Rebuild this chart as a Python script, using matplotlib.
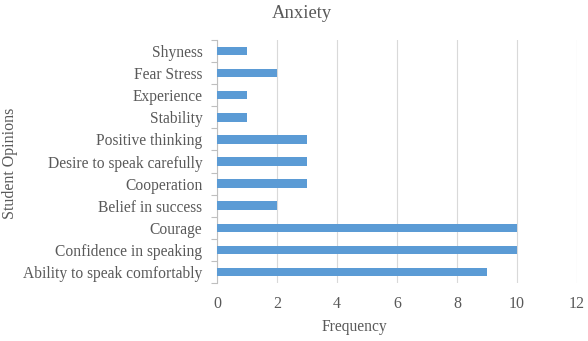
import matplotlib
matplotlib.use("Agg")
import matplotlib.pyplot as plt
import numpy as np

categories = ["Ability to speak comfortably", "Confidence in speaking", "Courage",
              "Belief in success", "Cooperation", "Desire to speak carefully",
              "Positive thinking", "Stability", "Experience", "Fear Stress", "Shyness"]
values = [9, 10, 10, 2, 3, 3, 3, 1, 1, 2, 1]
xticks = [0, 2, 4, 6, 8, 10, 12]

plt.rcParams['font.family'] = ['Liberation Serif', 'DejaVu Serif']
txt = '#595959'
W, H = 588, 341

fig = plt.figure(figsize=(W/100, H/100), dpi=100)
ax = fig.add_axes([217/W, 1-283/H, 360/W, 243/H])
y = np.arange(len(categories))
ax.barh(y, values, height=0.38, color='#5b9bd5', zorder=3)
ax.set_ylim(-0.5, len(categories)-0.5)
ax.set_xlim(0, 12)
ax.set_xticks(xticks)
ax.set_xticklabels([str(t) for t in xticks])
ax.set_yticks(y)
ax.set_yticklabels(categories)
ax.set_yticks(np.arange(-0.5, len(categories), 1), minor=True)
ax.tick_params(axis='y', which='major', length=0, pad=10.5, labelsize=11.2, labelcolor=txt)
ax.tick_params(axis='y', which='minor', length=4, color='#bfbfbf', width=0.8)
ax.tick_params(axis='x', length=0, pad=9, labelsize=11.5, labelcolor=txt)
ax.grid(axis='x', color='#d9d9d9', linewidth=0.8, zorder=0)
for s in ['top', 'right', 'bottom']:
    ax.spines[s].set_visible(False)
ax.spines['left'].set_color('#bfbfbf')
ax.spines['left'].set_linewidth(0.8)
fig.text(354/W, 1-327/H, 'Frequency', ha='center', va='center', fontsize=11.2, color=txt)
fig.text(10/W, 1-163/H, 'Student Opinions', ha='center', va='center', rotation=90,
         fontsize=11.5, color=txt)
fig.text(302/W, 1-13/H, 'Anxiety', ha='center', va='center', fontsize=13.4, color=txt)
fig.savefig('out.png', dpi=100)
